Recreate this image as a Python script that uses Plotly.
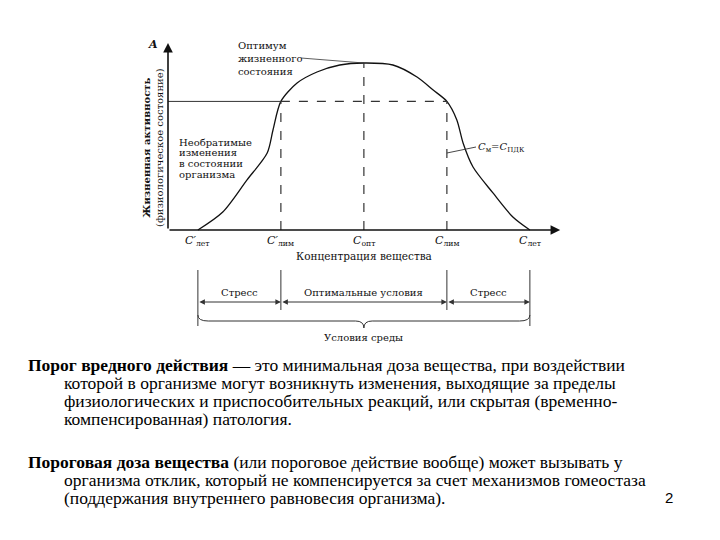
import plotly.graph_objects as go

# ---------------- data ----------------
conc_pos = [1, 3, 5, 7, 9]
conc_labels = ["<i>C′</i><sub>лет</sub>", "<i>C′</i><sub>лим</sub>", "<i>C</i><sub>опт</sub>",
               "<i>C</i><sub>лим</sub>", "<i>C</i><sub>лет</sub>"]
curve_x = [1.0, 1.6, 2.18, 2.67, 2.81, 3.0, 3.39, 3.87, 4.42, 5.0,
           5.7, 6.28, 6.67, 7.0, 7.24, 7.39, 7.63, 8.11, 8.59, 9.0]
curve_y = [0, 10.8, 29.9, 46.1, 59.9, 77, 88, 94.6, 98.8, 100,
           98.8, 91.6, 83.8, 77, 65.9, 52.1, 37.7, 22.2, 7.8, 0]
threshold = 77
peak = 100
zone_labels = ["Стресс", "Оптимальные условия", "Стресс"]
optimum_lines = ["Оптимум", "жизненного", "состояния"]
irrev_lines = ["Необратимые", "изменения", "в состоянии", "организма"]

para1 = ["<b>Порог вредного действия</b> — это минимальная доза вещества, при воздействии",
         "которой в организме могут возникнуть изменения, выходящие за пределы",
         "физиологических и приспособительных реакций, или скрытая (временно-",
         "компенсированная) патология."]
para2 = ["<b>Пороговая доза вещества</b> (или пороговое действие вообще) может вызывать у",
         "организма отклик, который не компенсируется за счет механизмов гомеостаза",
         "(поддержания внутреннего равновесия организма)."]

# --------------- geometry helpers ---------------
X0 = 0.28          # y-axis position in data units
XEND = 9.73        # x-axis arrow end
YTOP = 112         # y-axis arrow end
def py(pixel):      # vertical pixel -> data y
    return (230 - pixel) / 1.67
def px(pixel):      # horizontal pixel -> data x
    return X0 + (pixel - 168) / 41.5

CF = dict(family="DejaVu Serif", size=10, color="#111")
fig = go.Figure()

fig.add_trace(go.Scatter(x=curve_x, y=curve_y, mode="lines",
                         line=dict(color="#111", width=1.3, shape="spline", smoothing=0.8),
                         hoverinfo="skip", showlegend=False))

shapes = []
shapes.append(dict(type="line", xref="x", yref="y", x0=X0, x1=conc_pos[1], y0=threshold, y1=threshold,
                   line=dict(color="#333", width=1)))
shapes.append(dict(type="line", xref="x", yref="y", x0=conc_pos[1], x1=conc_pos[3], y0=threshold, y1=threshold,
                   line=dict(color="#333", width=1.2, dash="dash")))
for xv, top in [(conc_pos[1], threshold), (conc_pos[2], peak), (conc_pos[3], threshold)]:
    shapes.append(dict(type="line", xref="x", yref="y", x0=xv, x1=xv, y0=0, y1=top,
                       line=dict(color="#333", width=1.2, dash="dash")))
for xv in [conc_pos[0], conc_pos[4]]:
    shapes.append(dict(type="line", xref="x", yref="y", x0=xv, x1=xv, y0=py(270), y1=py(326),
                       line=dict(color="#333", width=1)))
for xv in [conc_pos[1], conc_pos[3]]:
    shapes.append(dict(type="line", xref="x", yref="y", x0=xv, x1=xv, y0=py(270), y1=py(310),
                       line=dict(color="#333", width=1)))
a, m, b = conc_pos[0], conc_pos[2], conc_pos[4]
y1, y2, y3 = py(315), py(321), py(328)
path = (f"M {a},{y1} Q {a},{y2} {a+0.25},{y2} L {m-0.2},{y2} Q {m},{y2} {m},{y3} "
        f"Q {m},{y2} {m+0.2},{y2} L {b-0.25},{y2} Q {b},{y2} {b},{y1}")
shapes.append(dict(type="path", xref="x", yref="y", path=path, line=dict(color="#333", width=1)))
shapes.append(dict(type="line", xref="x", yref="y", x0=px(301), x1=conc_pos[2], y0=py(58), y1=peak,
                   line=dict(color="#333", width=0.8)))
shapes.append(dict(type="line", xref="x", yref="y", x0=conc_pos[3], x1=px(476), y0=py(153), y1=py(147),
                   line=dict(color="#333", width=0.9)))

ann = []
ann.append(dict(x=X0, y=YTOP, ax=X0, ay=0, xref="x", yref="y", axref="x", ayref="y", text="",
                showarrow=True, arrowhead=2, arrowsize=1.2, arrowwidth=1.6, arrowcolor="#111"))
ann.append(dict(x=XEND, y=0, ax=X0, ay=0, xref="x", yref="y", axref="x", ayref="y", text="",
                showarrow=True, arrowhead=2, arrowsize=1.2, arrowwidth=1.6, arrowcolor="#111"))
ann.append(dict(x=px(153), y=py(44), xref="x", yref="y", text="<b><i>A</i></b>", showarrow=False,
                font=dict(family="DejaVu Serif", size=11, color="#111")))
for xv, lab in zip(conc_pos, conc_labels):
    ann.append(dict(x=xv, y=py(241), xref="x", yref="y", text=lab, showarrow=False,
                    font=dict(family="DejaVu Serif", size=11, color="#111")))
ann.append(dict(x=conc_pos[2], y=py(256), xref="x", yref="y", text="Концентрация вещества",
                showarrow=False, font=dict(family="DejaVu Serif", size=10.5, color="#111")))
ann.append(dict(x=px(153), y=py(148), xref="x", yref="y",
                text="<b>Жизненная активность</b><br>(физиологическое состояние)",
                textangle=-90, showarrow=False, font=CF))
for i, t in enumerate(optimum_lines):
    ann.append(dict(x=px(236), y=py(45 + 13 * i), xref="x", yref="y", xanchor="left",
                    text=t, showarrow=False, font=CF))
for i, t in enumerate(irrev_lines):
    ann.append(dict(x=px(177), y=py(142 + 10.7 * i), xref="x", yref="y", xanchor="left",
                    text=t, showarrow=False, font=CF))
ann.append(dict(x=px(476), y=py(147), xref="x", yref="y", xanchor="left",
                text="<i>C</i><sub>м</sub>=<i>C</i><sub>ПДК</sub>", showarrow=False, font=CF))
edges = [conc_pos[0], conc_pos[1], conc_pos[3], conc_pos[4]]
for (s, e), lab in zip(zip(edges[:-1], edges[1:]), zone_labels):
    ann.append(dict(x=e, y=py(302), ax=s, ay=py(302), xref="x", yref="y", axref="x", ayref="y",
                    text="", showarrow=True, arrowhead=2, startarrowhead=2, arrowside="end+start",
                    arrowsize=1.1, startarrowsize=1.1, arrowwidth=1, arrowcolor="#333"))
    ann.append(dict(x=(s + e) / 2, y=py(292), xref="x", yref="y", text=lab, showarrow=False, font=CF))
ann.append(dict(x=conc_pos[2], y=py(337), xref="x", yref="y", text="Условия среды",
                showarrow=False, font=CF))

TF = dict(family="Liberation Serif", size=17.5, color="#000")
for i, line in enumerate(para1):
    ann.append(dict(x=(26 if i == 0 else 62) / 720, y=1 - (365 + 18 * i) / 540, xref="paper", yref="paper",
                    xanchor="left", yanchor="middle", text=line, showarrow=False, font=TF))
for i, line in enumerate(para2):
    ann.append(dict(x=(26 if i == 0 else 62) / 720, y=1 - (462 + 18 * i) / 540, xref="paper", yref="paper",
                    xanchor="left", yanchor="middle", text=line, showarrow=False, font=TF))
ann.append(dict(x=675 / 720, y=1 - 508 / 540, xref="paper", yref="paper", text="2", showarrow=False,
                font=dict(family="Liberation Sans", size=15, color="#000")))

fig.update_layout(
    width=720, height=540, margin=dict(l=0, r=0, t=0, b=0),
    paper_bgcolor="white", plot_bgcolor="white",
    xaxis=dict(domain=[120 / 720, 600 / 720], range=[px(120), px(600)], visible=False, fixedrange=True),
    yaxis=dict(domain=[(540 - 345) / 540, (540 - 40) / 540], range=[py(345), py(40)], visible=False,
               fixedrange=True),
    shapes=shapes, annotations=ann, showlegend=False,
)
fig.write_html("out.html", post_script="document.body.style.margin='0px';",
               config={"displayModeBar": False})
